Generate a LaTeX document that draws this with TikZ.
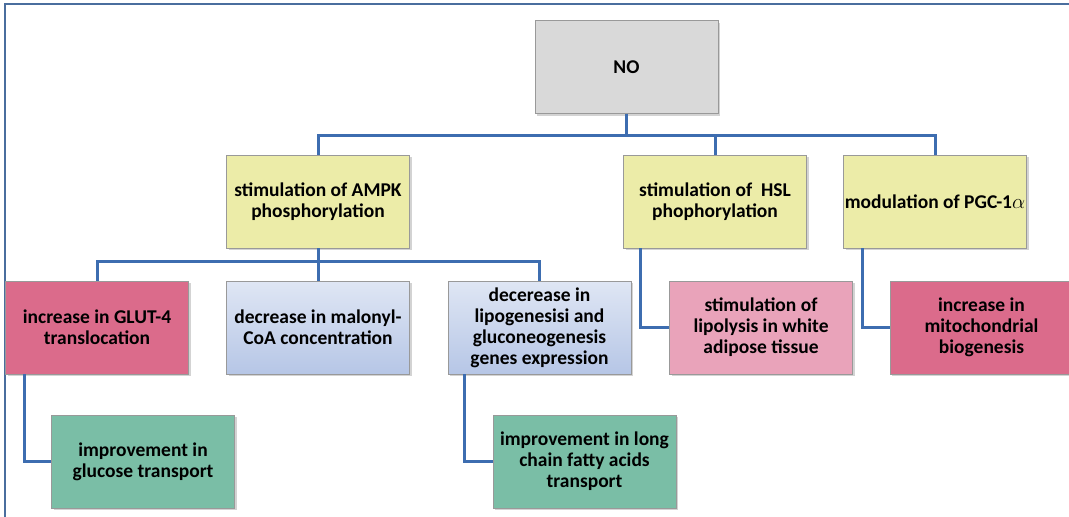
\documentclass[tikz,border=0pt]{standalone}
\usepackage{fontspec}
\setmainfont{Carlito}
\usepackage{tikz}
\usetikzlibrary{shadows}

\definecolor{linkcol}{RGB}{61,109,176}
\definecolor{framecol}{RGB}{74,110,158}
\definecolor{greycol}{RGB}{217,217,217}
\definecolor{yellowcol}{RGB}{236,236,168}
\definecolor{redcol}{RGB}{219,107,139}
\definecolor{pinkcol}{RGB}{233,163,186}
\definecolor{bluetopcol}{RGB}{223,230,244}
\definecolor{bluebotcol}{RGB}{182,198,230}
\definecolor{greencol}{RGB}{122,190,166}

\begin{document}
\begin{tikzpicture}[x=1pt, y=-1pt,
    box/.style={shape=rectangle, draw=black!40, minimum width=183pt, minimum height=93pt,
      inner xsep=0pt, inner ysep=2pt, align=center, font=\fontsize{19.5}{21}\selectfont\bfseries,
      drop shadow={shadow xshift=2pt, shadow yshift=-2pt, opacity=0.35}},
    nobox/.style={box, fill=greycol},
    stepbox/.style={box, fill=yellowcol},
    redbox/.style={box, fill=redcol},
    pinkbox/.style={box, fill=pinkcol},
    bluebox/.style={box, top color=bluetopcol, bottom color=bluebotcol},
    greenbox/.style={box, fill=greencol},
    link/.style={draw=linkcol, line width=3pt}]
    \useasboundingbox (0,0) rectangle (1069,517);
    \clip (0,0) rectangle (1069,517);
    \draw[framecol, line width=1.8pt] (5,517) -- (5,4) -- (1069,4);

    \node[nobox] (NO) at (626.5,67) {NO};

    \node[stepbox] (AMPK) at (318,201.5) {stimulation of AMPK\\phosphorylation};
    \node[stepbox] (HSL) at (715,201.5) {stimulation of \ HSL\\phophorylation};
    \node[stepbox] (PGC) at (935,201.5) {modulation of PGC-1$\alpha$};

    \node[redbox] (GLUT) at (97,327.5) {increase in GLUT-4\\translocation};
    \node[bluebox] (malonyl) at (318,327.5) {decrease in malonyl-\\CoA concentration};
    \node[bluebox] (lipo) at (539.5,327.5) {decerease in\\lipogenesisi and\\gluconeogenesis\\genes expression};
    \node[pinkbox] (lipolysis) at (761,327.5) {stimulation of\\lipolysis in white\\adipose tissue};
    \node[redbox] (mito) at (981.5,327.5) {increase in\\mitochondrial\\biogenesis};

    \node[greenbox] (glucose) at (143,461.5) {improvement in\\glucose transport};
    \node[greenbox] (fatty) at (584.5,461.5) {improvement in long\\chain fatty acids\\transport};

    % NO to the three yellow boxes
    \coordinate (bus1) at (626.5,135);
    \draw[link] (NO.south) -- (bus1);
    \draw[link] (AMPK.north) |- (bus1) -| (PGC.north);
    \draw[link] (bus1 -| HSL.north) -- (HSL.north);

    % AMPK to its three effects
    \coordinate (bus2) at (318,261);
    \draw[link] (AMPK.south) -- (bus2);
    \draw[link] (GLUT.north) |- (bus2) -| (lipo.north);
    \draw[link] (bus2) -- (malonyl.north);

    \draw[link] ([xshift=19pt]GLUT.south west) |- (glucose.west);
    \draw[link] ([xshift=17pt]lipo.south west) |- (fatty.west);
    \draw[link] ([xshift=17pt]HSL.south west) |- (lipolysis.west);
    \draw[link] ([xshift=19pt]PGC.south west) |- (mito.west);
\end{tikzpicture}
\end{document}
